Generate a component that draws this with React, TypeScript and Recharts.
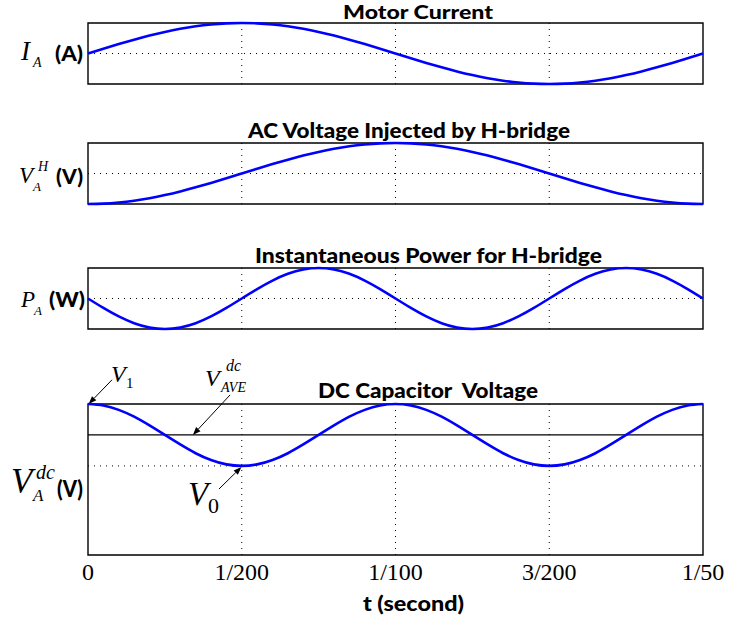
import React from 'react';
import { LineChart, Line, XAxis, YAxis, ReferenceLine, ReferenceArea } from 'recharts';

// time samples (s)
const timeS = [0, 0.0005, 0.001, 0.0015, 0.002, 0.0025, 0.003, 0.0035, 0.004, 0.0045, 0.005, 0.0055, 0.006, 0.0065, 0.007, 0.0075, 0.008, 0.0085, 0.009, 0.0095, 0.01, 0.0105, 0.011, 0.0115, 0.012, 0.0125, 0.013, 0.0135, 0.014, 0.0145, 0.015, 0.0155, 0.016, 0.0165, 0.017, 0.0175, 0.018, 0.0185, 0.019, 0.0195, 0.02];

const motorCurrent = [0, 0.156, 0.309, 0.454, 0.588, 0.707, 0.809, 0.891, 0.951, 0.988, 1, 0.988, 0.951, 0.891, 0.809, 0.707, 0.588, 0.454, 0.309, 0.156, 0, -0.156, -0.309, -0.454, -0.588, -0.707, -0.809, -0.891, -0.951, -0.988, -1, -0.988, -0.951, -0.891, -0.809, -0.707, -0.588, -0.454, -0.309, -0.156, 0];

const hBridgeVoltage = [-1, -0.988, -0.951, -0.891, -0.809, -0.707, -0.588, -0.454, -0.309, -0.156, 0, 0.156, 0.309, 0.454, 0.588, 0.707, 0.809, 0.891, 0.951, 0.988, 1, 0.988, 0.951, 0.891, 0.809, 0.707, 0.588, 0.454, 0.309, 0.156, 0, -0.156, -0.309, -0.454, -0.588, -0.707, -0.809, -0.891, -0.951, -0.988, -1];

const hBridgePower = [0, -0.309, -0.588, -0.809, -0.951, -1, -0.951, -0.809, -0.588, -0.309, 0, 0.309, 0.588, 0.809, 0.951, 1, 0.951, 0.809, 0.588, 0.309, 0, -0.309, -0.588, -0.809, -0.951, -1, -0.951, -0.809, -0.588, -0.309, 0, 0.309, 0.588, 0.809, 0.951, 1, 0.951, 0.809, 0.588, 0.309, 0];

const dcVoltage = [10, 9.9, 9.61, 9.16, 8.58, 7.95, 7.32, 6.74, 6.29, 6.0, 5.9, 6.0, 6.29, 6.74, 7.32, 7.95, 8.58, 9.16, 9.61, 9.9, 10, 9.9, 9.61, 9.16, 8.58, 7.95, 7.32, 6.74, 6.29, 6.0, 5.9, 6.0, 6.29, 6.74, 7.32, 7.95, 8.58, 9.16, 9.61, 9.9, 10];

const tickValues = [0, 0.005, 0.01, 0.015, 0.02];
const tickLabels = ['0', '1/200', '1/100', '3/200', '1/50'];
const gridTimes = [0.005, 0.01, 0.015];

const v1Level = 10;
const v0Level = 5.9;
const vAveLevel = 7.95;

const rows = timeS.map((t, i) => ({
  t,
  current: motorCurrent[i],
  vh: hBridgeVoltage[i],
  p: hBridgePower[i],
  vdc: dcVoltage[i],
}));

const W = 729;
const MARGIN_L = 88;
const MARGIN_R = 26;
const BLUE = '#0000ff';

const ArrowShape = (props: any) => {
  const { x1, y1, x2, y2 } = props;
  if ([x1, y1, x2, y2].some((v) => typeof v !== 'number' || isNaN(v))) return null;
  const ang = Math.atan2(y2 - y1, x2 - x1);
  const L = 8;
  const Wd = 3;
  const bx = x2 - L * Math.cos(ang);
  const by = y2 - L * Math.sin(ang);
  const pts = `${x2},${y2} ${bx - Wd * Math.sin(ang)},${by + Wd * Math.cos(ang)} ${bx + Wd * Math.sin(ang)},${by - Wd * Math.cos(ang)}`;
  return (
    <g>
      <line x1={x1} y1={y1} x2={bx} y2={by} stroke="#000" strokeWidth={1} />
      <polygon points={pts} fill="#000" />
    </g>
  );
};

type PanelProps = { top: number; dataKey: string };

const SmallPanel = ({ top, dataKey }: PanelProps) => (
  <div style={{ position: 'absolute', left: 0, top }}>
    <LineChart width={W} height={81} data={rows} margin={{ top: 10, right: MARGIN_R, bottom: 10, left: MARGIN_L }}>
      <XAxis dataKey="t" type="number" domain={[0, 0.02]} hide />
      <YAxis type="number" domain={[-1, 1]} hide />
      {gridTimes.map((g) => (
        <ReferenceLine key={g} x={g} stroke="#000" strokeWidth={1} strokeDasharray="1 5" />
      ))}
      <ReferenceLine y={0} stroke="#000" strokeWidth={1} strokeDasharray="1 5" />
      <ReferenceArea x1={0} x2={0.02} y1={-1} y2={1} fill="none" fillOpacity={0} stroke="#000" strokeWidth={1.4} strokeOpacity={1} />
      <Line dataKey={dataKey} type="natural" stroke={BLUE} strokeWidth={2.6} dot={false} isAnimationActive={false} />
    </LineChart>
  </div>
);

const DcPanel = () => (
  <div style={{ position: 'absolute', left: 0, top: 350 }}>
    <LineChart width={W} height={235} data={rows} margin={{ top: 54, right: MARGIN_R, bottom: 0, left: MARGIN_L }}>
      <XAxis
        dataKey="t"
        type="number"
        domain={[0, 0.02]}
        ticks={tickValues}
        tickFormatter={(v: number) => tickLabels[tickValues.indexOf(v)]}
        axisLine={false}
        tickLine={false}
        height={30}
        interval={0}
        tick={{ fontFamily: 'Liberation Serif', fontSize: 24, fill: '#000' }}
      />
      <YAxis type="number" domain={[0, 10]} hide />
      {gridTimes.map((g) => (
        <ReferenceLine key={g} x={g} stroke="#000" strokeWidth={1} strokeDasharray="1 5" />
      ))}
      <ReferenceLine y={v0Level} stroke="#000" strokeWidth={1} strokeDasharray="1 5" />
      <ReferenceLine y={vAveLevel} stroke="#000" strokeWidth={1.3} />
      <ReferenceArea x1={0} x2={0.02} y1={0} y2={10} fill="none" fillOpacity={0} stroke="#000" strokeWidth={1.4} strokeOpacity={1} />
      <ReferenceLine ifOverflow="visible" segment={[{ x: 0.00078, y: 11.6 }, { x: 0.00002, y: v1Level }]} shape={ArrowShape} />
      <ReferenceLine ifOverflow="visible" segment={[{ x: 0.00462, y: 10.6 }, { x: 0.00341, y: vAveLevel }]} shape={ArrowShape} />
      <ReferenceLine ifOverflow="visible" segment={[{ x: 0.00426, y: 4.37 }, { x: 0.00499, y: 5.83 }]} shape={ArrowShape} />
      <Line dataKey="vdc" type="natural" stroke={BLUE} strokeWidth={2.6} dot={false} isAnimationActive={false} />
    </LineChart>
  </div>
);

const serif = 'Liberation Serif';
const sans = 'Lato';

const Overlay = () => (
  <svg width={W} height={626} style={{ position: 'absolute', left: 0, top: 0, pointerEvents: 'none' }}>
    {/* titles */}
    <g fontFamily={sans} fontWeight={900} fontSize={20} fill="#000">
      <text x={343} y={19} fontSize={18} textLength={150} lengthAdjust="spacingAndGlyphs">Motor Current</text>
      <text x={248} y={138} textLength={322} lengthAdjust="spacingAndGlyphs">AC Voltage Injected by H-bridge</text>
      <text x={255} y={263} textLength={347} lengthAdjust="spacingAndGlyphs">Instantaneous Power for H-bridge</text>
      <text x={318} y={398} textLength={220} lengthAdjust="spacingAndGlyphs" style={{ whiteSpace: 'pre' }}>DC Capacitor  Voltage</text>
      <text x={363} y={611} fontSize={20} textLength={101} lengthAdjust="spacingAndGlyphs">t (second)</text>
    </g>
    {/* y labels */}
    <g fontFamily={serif} fontStyle="italic" fill="#000">
      <text x={21} y={60} fontSize={27}>I</text>
      <text x={33} y={67} fontSize={14}>A</text>
      <text x={19} y={183} fontSize={23}>V</text>
      <text x={33} y={191} fontSize={13}>A</text>
      <text x={38} y={171} fontSize={14}>H</text>
      <text x={21} y={307} fontSize={23}>P</text>
      <text x={34} y={315} fontSize={13}>A</text>
      <text x={11} y={493} fontSize={35}>V</text>
      <text x={33} y={501} fontSize={17}>A</text>
      <text x={36} y={479} fontSize={20}>dc</text>
      {/* annotations */}
      <text x={111} y={382} fontSize={24}>V</text>
      <text x={205} y={386} fontSize={24}>V</text>
      <text x={226} y={371} fontSize={16}>dc</text>
      <text x={221} y={392} fontSize={14}>AVE</text>
      <text x={188} y={505} fontSize={33}>V</text>
    </g>
    <g fontFamily={serif} fill="#000">
      <text x={126} y={388} fontSize={15}>1</text>
      <text x={208} y={513} fontSize={22}>0</text>
    </g>
    <g fontFamily={sans} fontWeight={900} fill="#000" fontSize={21}>
      <text x={55} y={61} textLength={28} lengthAdjust="spacingAndGlyphs">(A)</text>
      <text x={56} y={184} textLength={27} lengthAdjust="spacingAndGlyphs">(V)</text>
      <text x={49} y={307} textLength={36} lengthAdjust="spacingAndGlyphs">(W)</text>
      <text x={57} y={497} fontSize={23} textLength={26} lengthAdjust="spacingAndGlyphs">(V)</text>
    </g>
  </svg>
);

export default function App() {
  return (
    <div style={{ position: 'absolute', left: 0, top: 0, width: W, height: 626, background: '#fff' }}>
      <SmallPanel top={13} dataKey="current" />
      <SmallPanel top={133} dataKey="vh" />
      <SmallPanel top={258} dataKey="p" />
      <DcPanel />
      <Overlay />
    </div>
  );
}
